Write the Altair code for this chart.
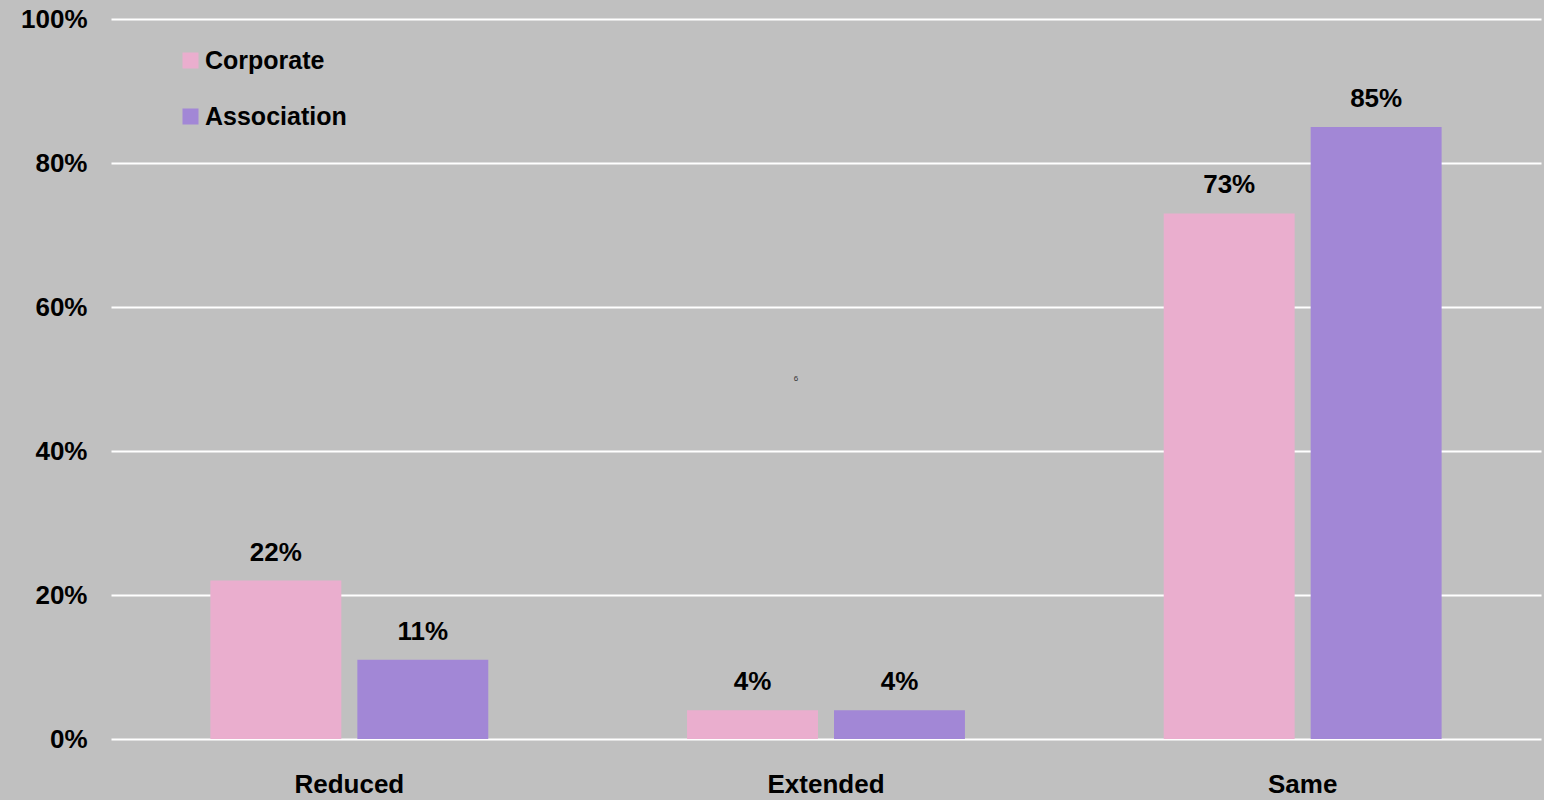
import altair as alt
import pandas as pd

categories = ["Reduced", "Extended", "Same"]
series = ["Corporate", "Association"]
corporate = [0.22, 0.04, 0.73]
association = [0.11, 0.04, 0.85]
colors = ["#EAAECE", "#A287D6"]

rows = []
for i, c in enumerate(categories):
    rows.append({"category": c, "series": "Corporate", "value": corporate[i]})
    rows.append({"category": c, "series": "Association", "value": association[i]})
df = pd.DataFrame(rows)

note_df = pd.DataFrame({"category": ["Extended"], "value": [0.5], "label": ["6"]})

FONT = "Liberation Sans"

x_enc = alt.X("category:N", sort=categories, title=None,
              scale=alt.Scale(paddingInner=0.417, paddingOuter=0.2085),
              axis=alt.Axis(labelAngle=0, labelFontSize=26, labelFontWeight="bold",
                            labelColor="black", labelFont=FONT, tickSize=0, domain=False,
                            labelPadding=32))
y_enc = alt.Y("value:Q", title=None,
              scale=alt.Scale(domain=[0, 1], nice=False),
              axis=alt.Axis(values=[0, 0.2, 0.4, 0.6, 0.8, 1.0], format=".0%",
                            labelFontSize=26, labelFontWeight="bold", labelColor="black",
                            labelFont=FONT, tickSize=0, domain=False, labelPadding=24,
                            grid=True, gridColor="white", gridWidth=2, gridOpacity=1))
xoff = alt.XOffset("series:N", sort=series,
                   scale=alt.Scale(paddingInner=0.109, paddingOuter=0))

base = alt.Chart(df)

bars = base.mark_bar(stroke=None).encode(
    x=x_enc,
    y=y_enc,
    xOffset=xoff,
    color=alt.Color("series:N", sort=series,
                    scale=alt.Scale(domain=series, range=colors),
                    legend=alt.Legend(title=None, orient="none", legendX=67, legendY=29,
                                      symbolType="square", symbolSize=256,
                                      symbolStrokeWidth=0, labelFontSize=25,
                                      labelFontWeight="bold", labelFont=FONT,
                                      labelColor="black", labelOffset=2, rowPadding=30)),
)

labels = base.mark_text(fontSize=26, fontWeight="bold", font=FONT, color="black",
                        baseline="alphabetic", dy=-20).encode(
    x=alt.X("category:N", sort=categories),
    y=alt.Y("value:Q"),
    xOffset=alt.XOffset("series:N", sort=series),
    text=alt.Text("value:Q", format=".0%"),
)

note = alt.Chart(note_df).mark_text(fontSize=8, font=FONT, color="#333333", dx=-30).encode(
    x=alt.X("category:N", sort=categories),
    y=alt.Y("value:Q"),
    text="label:N",
)

chart = alt.layer(bars, labels, note).properties(
    width=1430, height=720,
    background="#C0C0C0",
    autosize=alt.AutoSizeParams(type="none"),
    padding={"left": 111, "top": 19, "right": 3, "bottom": 61},
).configure_view(stroke=None, fill="#C0C0C0")

chart.save("out.html", embed_options={"renderer": "svg", "actions": False})
